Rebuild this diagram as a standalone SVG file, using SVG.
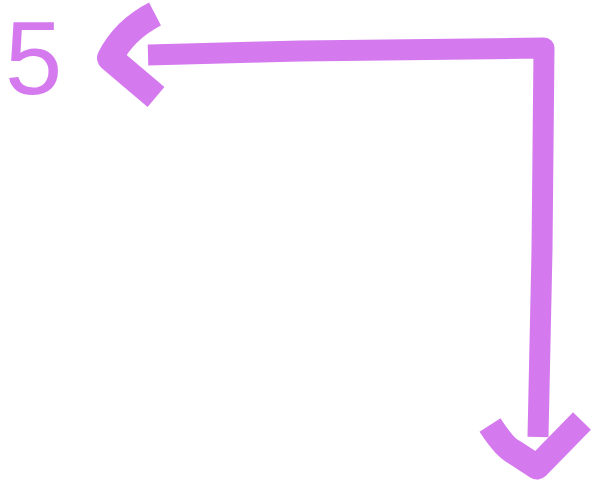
<svg xmlns="http://www.w3.org/2000/svg" width="610" height="500" viewBox="0 0 610 500">
  <style>
    .pen { fill: none; stroke: #d57aee; stroke-linejoin: round; stroke-linecap: butt; }
    .label { fill: #d57aee; font-family: "Liberation Sans", Arial, sans-serif; }
  </style>
  <defs>
    <filter id="soft" x="-5%" y="-5%" width="110%" height="110%">
      <feGaussianBlur stdDeviation="0.7"/>
    </filter>
  </defs>
  <rect width="610" height="500" fill="#ffffff"/>
  <g id="label-5">
    <text class="label" x="5" y="94" font-size="103">5</text>
  </g>
  <g id="connectors" filter="url(#soft)">
    <path class="pen" stroke-width="21" stroke-linejoin="miter" d="M148,55 L300,51 L544,48 L542,250 L538,437"/>
    <path class="pen" stroke-width="26" d="M155,14 Q124,30 110,58 L156,97"/>
    <path class="pen" stroke-width="25" d="M490,425 Q505,448 514,452 L537,467 L582,421"/>
  </g>
</svg>
